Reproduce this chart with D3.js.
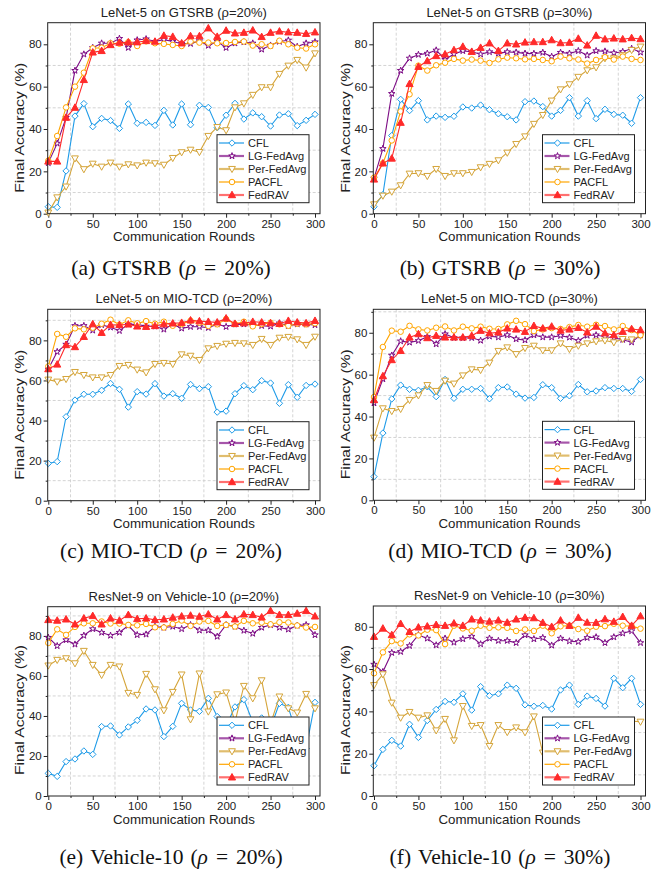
<!DOCTYPE html>
<meta charset="utf-8">
<script src="https://d3js.org/d3.v7.min.js"></script>
<style>
  body { margin: 0; background: #fff; }
  svg text { font-family: "Liberation Sans", Arial, sans-serif; fill: #222; }
  svg text.cap { font-family: "Liberation Serif", "Times New Roman", serif; fill: #111; }
</style>
<body>
<div id="chart"></div>
<script>
  // communication rounds (x values, shared by all panels)
  var rounds = [0, 10, 20, 30, 40, 50, 60, 70, 80, 90, 100, 110, 120, 130, 140, 150,
    160, 170, 180, 190, 200, 210, 220, 230, 240, 250, 260, 270, 280, 290, 300];

  var methods = ["CFL", "LG-FedAvg", "Per-FedAvg", "PACFL", "FedRAV"];
  var colors = ["#1e9be8", "#7d0c85", "#d5a53a", "#ffa500", "#ff2a2a"];
  var legendColors = ["#1e9be8", "#a656aa", "#e0bd6e", "#ffa500", "#ff7070"];

  // (a) GTSRB rho=20%
  var a_CFL = [3.3, 3.0, 20.2, 46.1, 52, 41.1, 45, 44, 40.3, 51.8, 42.7, 43.1, 41.7, 48.8, 41.9, 51.8,
    42, 51.2, 50.2, 40.6, 46.5, 52.1, 44.7, 47.6, 45.8, 41.4, 46.6, 47.2, 41.6, 44.1, 46.9];
  var a_LG = [24, 33.2, 45.4, 67.6, 75.3, 78.4, 80.5, 80.5, 82.7, 78.4, 82, 82.5, 81.3, 82.2, 81.3, 80.3,
    80.3, 81.6, 79.4, 81.3, 78.4, 80.5, 81.1, 80.5, 77.6, 79.5, 81.3, 81.9, 78.9, 80.5, 81.1];
  var a_Per = [0.5, 7.7, 12.8, 26.1, 21, 23.6, 22.2, 24.1, 22.2, 23.3, 22.8, 24.1, 23.8, 23.1, 26.3, 29,
    30.2, 29.1, 36.7, 40.9, 39.4, 50.2, 52.1, 56.1, 59.7, 59.7, 66, 69.9, 72.6, 69, 75.7];
  var a_PACFL = [25, 36.7, 50.2, 60, 66.6, 78.1, 78.4, 80.5, 80.3, 81, 79.2, 81.4, 80.5, 80.2, 79.7, 79.2,
    81.3, 80.8, 80.8, 80.5, 80.6, 81.1, 81.3, 79.4, 80, 79.2, 81.7, 80, 78.4, 78, 80];
  var a_FedRAV = [24.7, 24.7, 45.4, 50.1, 63.2, 76.2, 76.9, 79.7, 80.8, 81, 81, 81.6, 81.3, 84.1, 83.6, 80.5,
    83.9, 83.9, 87.6, 83.6, 86.5, 85.2, 85.5, 86.6, 83.5, 85.5, 86.1, 85.7, 85.5, 85, 85.7];

  // (b) GTSRB rho=30%
  var b_CFL = [3.3, 9, 36.9, 54, 48.7, 53.4, 44.3, 46.1, 45.5, 46, 50.4, 49.9, 51.3, 49.1, 47.2, 45.8,
    44.3, 52.9, 53.2, 50.6, 46.1, 48.8, 54.8, 46.1, 53.4, 44.9, 49.3, 46.9, 46.5, 42.7, 54.8];
  var b_LG = [16.7, 30.7, 56.7, 67.6, 73.4, 75.1, 75.7, 77.2, 72.8, 75.4, 76.9, 76.5, 75.3, 76.4, 75.7, 76.4,
    76.2, 75.7, 75.6, 76.1, 74.2, 76.1, 75.7, 76.9, 74.8, 76.9, 76.7, 75.9, 76.5, 78, 76.2];
  var b_Per = [4.4, 8.5, 10.4, 13.4, 18.9, 19.1, 17.8, 21.1, 17.8, 19.1, 19.1, 19.7, 21.9, 23.5, 25.2, 28.8,
    32.9, 36.5, 42.4, 46.6, 53.4, 58.7, 61.1, 64.6, 67.7, 69.1, 73.4, 73.4, 74.8, 77.3, 78.9];
  var b_PACFL = [17, 23.8, 34.6, 48.3, 56.4, 69.9, 67.6, 70.1, 71.3, 73.1, 72.3, 72.8, 72.3, 71.2, 72.9, 73.7,
    73.4, 72.9, 73.1, 72.6, 72, 74.2, 73.4, 72.8, 70.9, 72.6, 73.9, 72.8, 74.2, 73.1, 72.6];
  var b_FedRAV = [16.2, 23.8, 26.1, 43, 61.3, 69.4, 72.1, 74.5, 75.3, 77.3, 78.9, 76.5, 78.4, 80.5, 76.9, 80.5,
    80, 80.9, 81.1, 81.1, 82, 80.6, 80.8, 82.7, 79.5, 84.1, 82.4, 82.8, 82.4, 83, 82.5];

  // (c) MIO-TCD rho=20%
  var c_CFL = [18.6, 19.5, 41.9, 50.2, 53.1, 53.1, 55.1, 58.5, 55.6, 46.7, 54.4, 53.2, 58.4, 52.2, 53.4, 51.1,
    58, 55.9, 56.9, 44.2, 44.7, 53.4, 57.4, 55.4, 59.9, 58.7, 48.6, 57.9, 51.6, 57.5, 58.2];
  var c_LG = [65.7, 74.3, 78, 87.3, 87.3, 85, 87.7, 86.5, 84.8, 88, 88, 87, 87, 85.5, 88, 86,
    86.8, 86.8, 86.3, 88.1, 86.8, 88, 88.1, 87.7, 87.3, 87, 88.6, 87.3, 88.1, 88, 87.7];
  var c_Per = [60.4, 59.4, 60.7, 64.2, 62.7, 61.5, 61.5, 62.7, 67.2, 67.7, 65.4, 64, 68.2, 68.7, 68.2, 73,
    72.3, 70.2, 76, 77.2, 78.3, 78.7, 78.5, 77.7, 80.7, 77.7, 81.3, 81.7, 80.5, 77.7, 81.8];
  var c_PACFL = [67, 83.2, 81.8, 86, 85.5, 86.3, 88.3, 90.3, 87.8, 90, 88.5, 89.6, 88.3, 89.3, 87.3, 88.1,
    89.8, 88.8, 87.2, 88, 90.6, 88.1, 89.3, 87, 88.1, 88.8, 88, 87.3, 88.3, 88, 88.5];
  var c_FedRAV = [65.7, 68, 77.7, 76.7, 81.8, 88.1, 83.8, 87.8, 87.7, 88, 87, 86.8, 87.2, 88.1, 88.5, 88.8,
    90, 89.6, 89.3, 89, 91, 88.3, 88.6, 89.3, 89, 88.6, 88.3, 89.8, 89, 88.6, 89.8];

  // (d) MIO-TCD rho=30%
  var d_CFL = [11.3, 32.1, 48.4, 55, 53, 52.5, 54.2, 49.5, 57.7, 48.7, 53, 53, 53.4, 48.5, 53.8, 54.1,
    50.7, 48.8, 49.1, 55.2, 53.8, 48.7, 49.9, 55.3, 51.8, 52.2, 53.8, 53.4, 53.4, 52, 57.7];
  var d_LG = [46.4, 57.9, 69.2, 76, 75.4, 76.2, 78.1, 74.6, 79.4, 77.6, 77.5, 77.6, 76.3, 78.3, 77.9, 78.9,
    77, 76.5, 78.9, 77.9, 77.9, 78.6, 77.8, 76.2, 78.7, 78.9, 78.1, 77.6, 76.7, 75.5, 78.9];
  var d_Per = [29.9, 43.9, 42.6, 43.6, 47.9, 50.1, 55, 52.2, 57.1, 55.7, 59.6, 62.5, 62.2, 65.7, 71.3, 73,
    69.8, 72.7, 73.8, 71.6, 71.6, 74.9, 72.2, 73.8, 74.9, 75.9, 76.3, 75.4, 77, 76.8, 78.6];
  var d_PACFL = [49.3, 73.2, 81, 80.5, 83.3, 81.6, 81.1, 82.4, 83, 81.1, 82.9, 82.1, 82.9, 81.9, 81.8, 84,
    85.7, 84.1, 80.8, 81.6, 82.2, 81.8, 82.7, 83.7, 82.9, 83.8, 83.2, 81.6, 83.2, 81.3, 78.9];
  var d_FedRAV = [47.9, 59.3, 67, 71.4, 77.8, 79.4, 77.5, 78.6, 77.8, 77.8, 77.8, 78.6, 81, 79.8, 80.2, 82.1,
    81.6, 80.5, 83.3, 82.1, 83, 81.1, 81.6, 82.4, 80.2, 83, 79.8, 78.9, 80.5, 81.8, 81.3];

  // (e) Vehicle-10 rho=20%
  var e_CFL = [11.3, 9.8, 17.2, 18.5, 22.5, 20.8, 34.7, 35, 30.5, 34.5, 37.8, 43.5, 43, 29.7, 34.8, 46.3,
    43, 42.3, 48.8, 39.7, 35, 44.5, 48.2, 37, 39, 34, 46.3, 44.3, 30, 23.8, 46.8];
  var e_LG = [79.2, 75, 78, 75.8, 80.2, 83.5, 81.7, 80.2, 81.7, 85.2, 80.5, 80.8, 84.7, 84.2, 84.7, 83.5,
    85.5, 82.8, 82.8, 79.7, 85.5, 84.7, 82.7, 81.2, 84.2, 85.5, 84.2, 83.3, 85.2, 85.5, 80.5];
  var e_Per = [65.2, 68, 68.8, 66.3, 72.5, 65.5, 60.5, 65.5, 64.7, 51.5, 50.5, 61, 53.3, 42.8, 52, 60.7,
    38.3, 61.2, 42.2, 50.8, 51.7, 37, 55, 48.8, 57.8, 36, 49.7, 43.8, 41.7, 51, 43.8];
  var e_PACFL = [76.5, 83.3, 80.5, 84.5, 86.3, 86.3, 87.2, 86.2, 86.2, 85.5, 85.3, 86, 84.3, 84.2, 86, 87.7,
    85, 87.2, 87.5, 85, 85.5, 84.7, 87.5, 86.3, 86.7, 85.8, 86.8, 86.7, 85.2, 84.2, 84.5];
  var e_FedRAV = [88, 87.7, 88.3, 85.8, 88.8, 90, 85.8, 88.8, 87.7, 90.5, 88.5, 88.8, 88, 88.3, 89.2, 89.8,
    90.2, 89.7, 90.8, 88.3, 90.5, 88.3, 90.8, 90.5, 89.3, 92.5, 90.5, 90.5, 91.2, 92.5, 89.8];

  // (f) Vehicle-10 rho=30%
  var f_CFL = [14.3, 22, 26.3, 23.6, 33.9, 27.7, 35.7, 40.9, 44.7, 44.3, 48.3, 40.6, 51.7, 47.4, 48.3, 52.4,
    50.9, 43.1, 42.4, 42.8, 41.1, 50.1, 52.4, 43.3, 47.2, 46.1, 42.5, 55.6, 51.2, 55.6, 43.3];
  var f_LG = [62.2, 58.7, 67.7, 68.2, 71, 76.1, 74.5, 71.3, 74.5, 72.6, 74.2, 75.4, 71.8, 74.5, 73.4, 73.4,
    72.4, 76.1, 74.2, 74.8, 71.2, 74.5, 73.2, 72.9, 74.8, 75.1, 72.4, 75.1, 76.9, 78, 72.4];
  var f_Per = [52.4, 57.5, 44.1, 37, 39.7, 37, 38.1, 31, 36.4, 26.3, 42.5, 33.1, 33.5, 23.6, 33.5, 30.2,
    32.4, 30.1, 37.6, 20.5, 30, 33, 31, 34, 29, 33, 31, 35, 33, 35.4, 35.1];
  var f_PACFL = [58, 67.9, 73.2, 72.1, 76.4, 75.9, 78.6, 78.4, 71.8, 80.5, 79.2, 78.1, 80.5, 79.5, 79.7, 79.5,
    78, 78.7, 78, 80.5, 76.9, 80.2, 80.5, 78.9, 78.1, 80, 80.3, 81.4, 80.5, 80.3, 79.1];
  var f_FedRAV = [75.3, 79.2, 76.1, 81.4, 77.6, 79.7, 80.2, 80.9, 80.5, 81.6, 80.5, 83.5, 83, 82.5, 83, 82,
    83.5, 84.3, 84.1, 81.9, 80, 83, 80.5, 84.3, 82, 81.9, 83.6, 82.4, 84.7, 80.5, 85];

  var panels = [
    { title: "LeNet-5 on GTSRB (\u03c1=20%)", cap: ["(a)", "GTSRB", "20%)"], col: 0, bottom: 213.7, top: 22.7, yMax: 90.2, capY: 275,
      series: [a_CFL, a_LG, a_Per, a_PACFL, a_FedRAV] },
    { title: "LeNet-5 on GTSRB (\u03c1=30%)", cap: ["(b)", "GTSRB", "30%)"], col: 1, bottom: 213.7, top: 22.7, yMax: 90.2, capY: 275,
      series: [b_CFL, b_LG, b_Per, b_PACFL, b_FedRAV] },
    { title: "LeNet-5 on MIO-TCD (\u03c1=20%)", cap: ["(c)", "MIO-TCD", "20%)"], col: 0, bottom: 500.7, top: 309.3, yMax: 95.5, capY: 558,
      series: [c_CFL, c_LG, c_Per, c_PACFL, c_FedRAV] },
    { title: "LeNet-5 on MIO-TCD (\u03c1=30%)", cap: ["(d)", "MIO-TCD", "30%)"], col: 1, bottom: 500.3, top: 309.3, yMax: 91.2, capY: 558,
      series: [d_CFL, d_LG, d_Per, d_PACFL, d_FedRAV] },
    { title: "ResNet-9 on Vehicle-10 (\u03c1=20%)", cap: ["(e)", "Vehicle-10", "20%)"], col: 0, bottom: 796, top: 606.7, yMax: 94.6, capY: 864,
      series: [e_CFL, e_LG, e_Per, e_PACFL, e_FedRAV] },
    { title: "ResNet-9 on Vehicle-10 (\u03c1=30%)", cap: ["(f)", "Vehicle-10", "30%)"], col: 1, bottom: 796, top: 606, yMax: 89.8, capY: 864,
      series: [f_CFL, f_LG, f_Per, f_PACFL, f_FedRAV] }
  ];

  // column geometry: frame edges and where x=0 / x=300 fall
  var cols = [
    { left: 47.7, right: 320, x0: 48.3, x300: 315, capX: 171 },
    { left: 373.3, right: 645.5, x0: 374, x300: 640.5, capX: 500 }
  ];

  var svg = d3.select("#chart").append("svg")
    .attr("width", 663)
    .attr("height", 875);

  // marker shapes
  function markerPath(i) {
    if (i === 0) { var r = 3.2; return "M0," + (-r) + "L" + r + ",0L0," + r + "L" + (-r) + ",0Z"; }
    if (i === 1) return d3.symbol().type(d3.symbolStar).size(13)();
    if (i === 2) { var s = 3.4; return "M" + (-s) + "," + (-s * 0.75) + "L" + s + "," + (-s * 0.75) + "L0," + (s * 1.05) + "Z"; }
    if (i === 3) return d3.symbol().type(d3.symbolCircle).size(24)();
    var t = 3.6; return "M0," + (-t * 1.05) + "L" + t + "," + (t * 0.75) + "L" + (-t) + "," + (t * 0.75) + "Z";
  }

  panels.forEach(function (p) {
    var c = cols[p.col];
    var x = d3.scaleLinear().domain([0, 300]).range([c.x0, c.x300]);
    var y = d3.scaleLinear().domain([0, p.yMax]).range([p.bottom, p.top]);
    var g = svg.append("g");

    var xMinor = [25, 75, 125, 175, 225, 275];
    var yMinor = [10, 30, 50, 70, 90].filter(function (v) { return v < p.yMax - 0.5; });

    // dashed grid (at the minor positions)
    xMinor.forEach(function (v) {
      g.append("line").attr("x1", x(v)).attr("x2", x(v)).attr("y1", p.top).attr("y2", p.bottom)
        .attr("stroke", "#cfcfcf").attr("stroke-width", 0.9).attr("stroke-dasharray", "3,2");
    });
    yMinor.forEach(function (v) {
      g.append("line").attr("x1", c.left).attr("x2", c.right).attr("y1", y(v)).attr("y2", y(v))
        .attr("stroke", "#cfcfcf").attr("stroke-width", 0.9).attr("stroke-dasharray", "3,2");
    });

    // minor ticks
    g.append("g").attr("transform", "translate(0," + p.bottom + ")")
      .call(d3.axisBottom(x).tickValues(xMinor).tickSize(2).tickFormat(""))
      .call(function (s) { s.select(".domain").remove(); s.selectAll("line").attr("stroke", "#222"); });
    g.append("g").attr("transform", "translate(" + c.left + ",0)")
      .call(d3.axisLeft(y).tickValues(yMinor).tickSize(2).tickFormat(""))
      .call(function (s) { s.select(".domain").remove(); s.selectAll("line").attr("stroke", "#222"); });

    // axes
    var xAxis = d3.axisBottom(x).tickValues([0, 50, 100, 150, 200, 250, 300]).tickSize(4).tickPadding(2);
    var gx = g.append("g").attr("transform", "translate(0," + p.bottom + ")").call(xAxis);
    var yAxis = d3.axisLeft(y).tickValues([0, 20, 40, 60, 80]).tickSize(4).tickPadding(2);
    var gy = g.append("g").attr("transform", "translate(" + c.left + ",0)").call(yAxis);
    [gx, gy].forEach(function (ax) {
      ax.select(".domain").remove();
      ax.selectAll("line").attr("stroke", "#222");
      ax.selectAll("text").style("font-size", "11.5px").attr("fill", "#222")
        .style("font-family", "'Liberation Sans', Arial, sans-serif");
    });

    // series
    p.series.forEach(function (vals, i) {
      var pts = rounds.map(function (r, k) { return [r, vals[k]]; });
      g.append("path").datum(pts)
        .attr("fill", "none").attr("stroke", colors[i]).attr("stroke-width", 1.1)
        .attr("d", d3.line().x(function (d) { return x(d[0]); }).y(function (d) { return y(d[1]); }));
      g.selectAll(".m" + i).data(pts).enter().append("path")
        .attr("transform", function (d) { return "translate(" + x(d[0]) + "," + y(d[1]) + ")"; })
        .attr("d", markerPath(i))
        .attr("fill", i === 4 ? colors[i] : "#fff")
        .attr("stroke", colors[i]).attr("stroke-width", 1);
    });

    // frame
    g.append("rect").attr("x", c.left).attr("y", p.top)
      .attr("width", c.right - c.left).attr("height", p.bottom - p.top)
      .attr("fill", "none").attr("stroke", "#222").attr("stroke-width", 1);

    // legend
    var lw = 92, lh = 68;
    var lx = c.right - 11 - lw, ly = p.bottom - 11 - lh;
    var lg = g.append("g").attr("transform", "translate(" + lx + "," + ly + ")");
    lg.append("rect").attr("width", lw).attr("height", lh)
      .attr("fill", "#fff").attr("stroke", "#222").attr("stroke-width", 1);
    methods.forEach(function (m, i) {
      var ry = 8.3 + i * 13;
      lg.append("line").attr("x1", 2).attr("x2", 27).attr("y1", ry).attr("y2", ry)
        .attr("stroke", legendColors[i]).attr("stroke-width", (i === 0 || i === 3) ? 1.2 : 2.2);
      lg.append("path").attr("transform", "translate(15," + ry + ")")
        .attr("d", markerPath(i))
        .attr("fill", i === 4 ? colors[i] : "#fff")
        .attr("stroke", colors[i]).attr("stroke-width", 1);
      lg.append("text").attr("x", 31).attr("y", ry).attr("dy", "0.36em")
        .style("font-size", "11px").text(m);
    });

    // title and axis labels
    g.append("text").attr("x", (c.left + c.right) / 2).attr("y", p.top - 6)
      .attr("text-anchor", "middle").style("font-size", "13px").text(p.title);
    g.append("text").attr("x", (c.left + c.right) / 2).attr("y", p.bottom + 27.5)
      .attr("text-anchor", "middle").style("font-size", "13.3px").text("Communication Rounds");
    g.append("text")
      .attr("transform", "translate(" + (c.left - 28) + "," + (p.bottom - 86) + ") rotate(-90)")
      .attr("text-anchor", "middle").attr("dy", "0.35em")
      .attr("textLength", 130).attr("lengthAdjust", "spacingAndGlyphs")
      .style("font-size", "13.5px").text("Final Accuracy (%)");

    // caption below the panel
    var cap = svg.append("text").attr("class", "cap")
      .attr("x", c.capX).attr("y", p.capY).attr("text-anchor", "middle")
      .style("font-size", "21.5px");
    cap.append("tspan").text(p.cap[0]);
    cap.append("tspan").attr("dx", 7).text(p.cap[1]);
    cap.append("tspan").attr("dx", 7).text("(");
    cap.append("tspan").style("font-style", "italic").text("\u03c1");
    cap.append("tspan").attr("dx", 8).text("=");
    cap.append("tspan").attr("dx", 8).text(p.cap[2]);
  });
</script>
</body>
